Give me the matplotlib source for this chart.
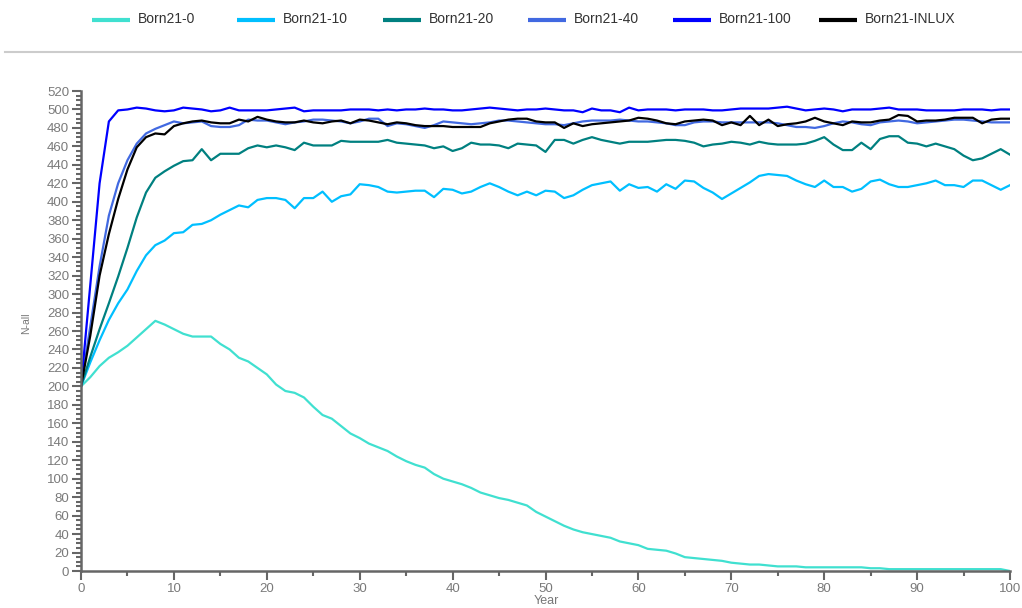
import matplotlib
matplotlib.use('Agg')
import matplotlib.pyplot as plt
from matplotlib.lines import Line2D
from matplotlib.ticker import MultipleLocator
import numpy as np

years = np.arange(0, 101)

born_0 = [200, 210, 222, 231, 237, 244, 253, 262, 271, 267,
          262, 257, 254, 254, 254, 246, 240, 231, 227, 220,
          213, 202, 195, 193, 188, 178, 169, 165, 157, 149,
          144, 138, 134, 130, 124, 119, 115, 112, 105, 100,
          97, 94, 90, 85, 82, 79, 77, 74, 71, 64,
          59, 54, 49, 45, 42, 40, 38, 36, 32, 30,
          28, 24, 23, 22, 19, 15, 14, 13, 12, 11,
          9, 8, 7, 7, 6, 5, 5, 5, 4, 4,
          4, 4, 4, 4, 4, 3, 3, 2, 2, 2,
          2, 2, 2, 2, 2, 2, 2, 2, 2, 2, 0]

born_10 = [200, 226, 250, 272, 290, 305, 325, 342, 353, 358,
           366, 367, 375, 376, 380, 386, 391, 396, 394, 402,
           404, 404, 402, 393, 404, 404, 411, 400, 406, 408,
           419, 418, 416, 411, 410, 411, 412, 412, 405, 414,
           413, 409, 411, 416, 420, 416, 411, 407, 411, 407,
           412, 411, 404, 407, 413, 418, 420, 422, 412, 419,
           415, 416, 411, 419, 414, 423, 422, 415, 410, 403,
           409, 415, 421, 428, 430, 429, 428, 423, 419, 416,
           423, 416, 416, 411, 414, 422, 424, 419, 416, 416,
           418, 420, 423, 418, 418, 416, 423, 423, 418, 413, 418]

born_20 = [200, 232, 262, 290, 319, 350, 383, 410, 426, 433,
           439, 444, 445, 457, 445, 452, 452, 452, 458, 461,
           459, 461, 459, 456, 464, 461, 461, 461, 466, 465,
           465, 465, 465, 467, 464, 463, 462, 461, 458, 460,
           455, 458, 464, 462, 462, 461, 458, 463, 462, 461,
           454, 467, 467, 463, 467, 470, 467, 465, 463, 465,
           465, 465, 466, 467, 467, 466, 464, 460, 462, 463,
           465, 464, 462, 465, 463, 462, 462, 462, 463, 466,
           470, 462, 456, 456, 464, 457, 468, 471, 471, 464,
           463, 460, 463, 460, 457, 450, 445, 447, 452, 457, 451]

born_40 = [200, 265, 330, 385, 420, 445, 463, 474, 479, 483,
           487, 485, 486, 487, 482, 481, 481, 483, 489, 488,
           488, 486, 484, 486, 487, 489, 489, 488, 487, 485,
           487, 490, 490, 482, 485, 484, 482, 480, 483, 487,
           486, 485, 484, 485, 486, 488, 488, 487, 486, 485,
           484, 484, 483, 485, 487, 488, 488, 488, 489, 488,
           487, 487, 486, 485, 483, 483, 486, 487, 487, 486,
           486, 486, 486, 486, 486, 485, 483, 481, 481, 480,
           482, 485, 487, 486, 484, 483, 486, 487, 488, 487,
           485, 486, 487, 488, 489, 489, 488, 487, 486, 486, 486]

born_100 = [200, 310, 420, 487, 499, 500, 502, 501, 499, 498,
            499, 502, 501, 500, 498, 499, 502, 499, 499, 499,
            499, 500, 501, 502, 498, 499, 499, 499, 499, 500,
            500, 500, 499, 500, 499, 500, 500, 501, 500, 500,
            499, 499, 500, 501, 502, 501, 500, 499, 500, 500,
            501, 500, 499, 499, 497, 501, 499, 499, 497, 502,
            499, 500, 500, 500, 499, 500, 500, 500, 499, 499,
            500, 501, 501, 501, 501, 502, 503, 501, 499, 500,
            501, 500, 498, 500, 500, 500, 501, 502, 500, 500,
            500, 499, 499, 499, 499, 500, 500, 500, 499, 500, 500]

born_inlux = [200, 255, 320, 365, 403, 435, 459, 470, 474, 473,
              482, 485, 487, 488, 486, 485, 485, 489, 487, 492,
              489, 487, 486, 486, 488, 486, 485, 487, 488, 485,
              489, 488, 486, 484, 486, 485, 483, 482, 482, 482,
              481, 481, 481, 481, 485, 487, 489, 490, 490, 487,
              486, 486, 480, 485, 482, 484, 485, 486, 487, 488,
              491, 490, 488, 485, 484, 487, 488, 489, 488, 483,
              486, 483, 493, 483, 489, 482, 484, 485, 487, 491,
              487, 485, 483, 487, 486, 486, 488, 489, 494, 493,
              487, 488, 488, 489, 491, 491, 491, 485, 489, 490, 490]

series = [
    ('Born21-0', born_0, '#40E0D0'),
    ('Born21-10', born_10, '#00BFFF'),
    ('Born21-20', born_20, '#008080'),
    ('Born21-40', born_40, '#4169E1'),
    ('Born21-100', born_100, '#0000FF'),
    ('Born21-INLUX', born_inlux, '#000000'),
]

plt.rcParams['font.family'] = 'Liberation Sans'

W, H = 1022, 608
fig = plt.figure(figsize=(W / 100, H / 100), dpi=100)
ax = fig.add_axes([81 / W, 37 / H, 929 / W, 480 / H])

for name, vals, col in series:
    ax.plot(years, vals, color=col, lw=1.6, label=name)

ax.set_xlim(0, 100)
ax.set_ylim(0, 520)
ax.xaxis.set_major_locator(MultipleLocator(10))
ax.xaxis.set_minor_locator(MultipleLocator(5))
ax.yaxis.set_major_locator(MultipleLocator(20))
ax.yaxis.set_minor_locator(MultipleLocator(5))

axis_gray = '#666666'
for s in ['top', 'right']:
    ax.spines[s].set_visible(False)
for s in ['left', 'bottom']:
    ax.spines[s].set_color(axis_gray)
    ax.spines[s].set_linewidth(1.8)
ax.tick_params(which='major', length=6.5, width=1.5, color=axis_gray,
               labelsize=9.5, labelcolor='#7a7a7a', pad=2)
ax.tick_params(which='minor', length=3.5, width=1.5, color=axis_gray)

ax.set_xlabel('Year', fontsize=9, color='#777777', va='center')
ax.xaxis.set_label_coords(0.5005, -0.0625)
ax.set_ylabel('N-all', fontsize=7.5, color='#777777', va='center', ha='center')
ax.yaxis.set_label_coords(-0.059, 0.517)

# legend row: fixed-width slots along the top
slot0, slot_w = 92, 145.3
for i, (name, _, col) in enumerate(series):
    x0 = slot0 + i * slot_w
    fig.add_artist(Line2D([x0 / W, (x0 + 38) / W], [1 - 20 / H] * 2,
                          color=col, lw=3, solid_capstyle='butt'))
    fig.text((x0 + 46) / W, 1 - 19 / H, name, fontsize=10,
             color='#333333', va='center', ha='left')

# thin divider under the legend row
fig.add_artist(Line2D([0.005, 1.0], [1 - 52 / H] * 2, color='#cccccc', lw=1.5))

plt.savefig('out.png', dpi=100)
